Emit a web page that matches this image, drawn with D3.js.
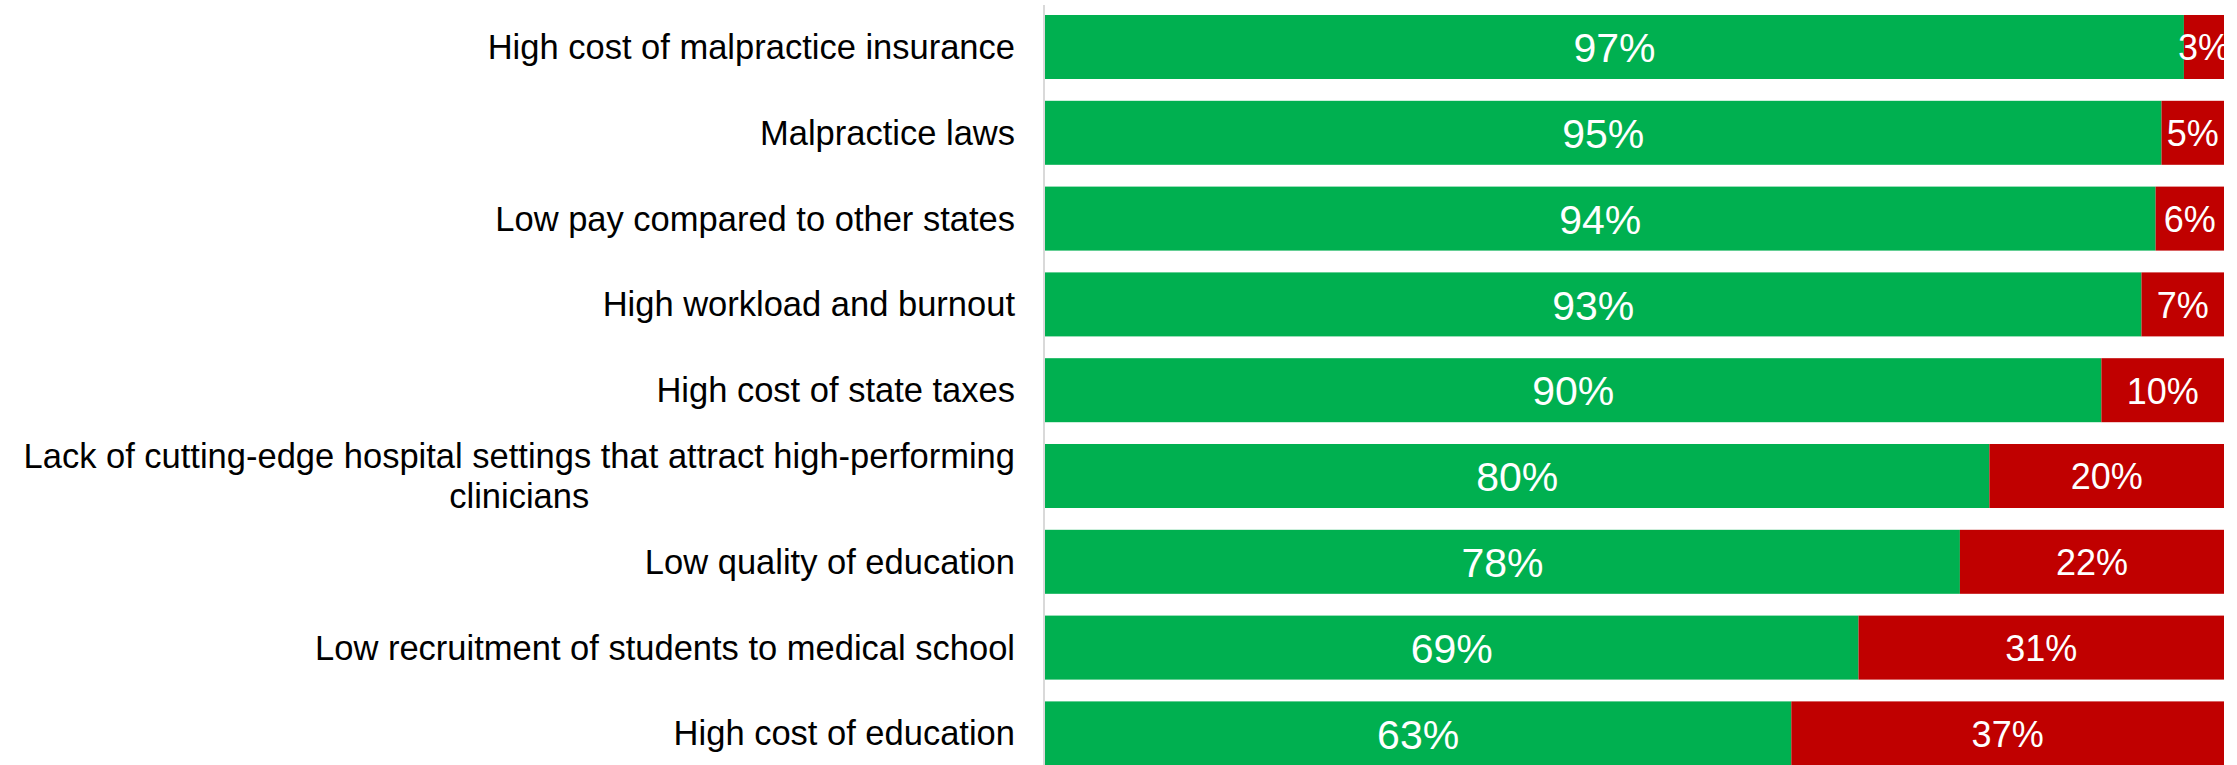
<!DOCTYPE html>
<html>
<head>
<meta charset="utf-8">
<script src="https://cdn.jsdelivr.net/npm/d3@7"></script>
<style>
  html, body { margin: 0; padding: 0; background: #fff; }
  svg { display: block; }
  text { font-family: "Liberation Sans", Arial, sans-serif; }
</style>
</head>
<body>
<svg id="chart" width="2237" height="765"></svg>
<script>
const categories = [
  "High cost of malpractice insurance",
  "Malpractice laws",
  "Low pay compared to other states",
  "High workload and burnout",
  "High cost of state taxes",
  "Lack of cutting-edge hospital settings that attract high-performing\nclinicians",
  "Low quality of education",
  "Low recruitment of students to medical school",
  "High cost of education"
];
const agreeValues = [96.6, 94.7, 94.2, 93.0, 89.6, 80.1, 77.6, 69.0, 63.3];
const disagreeValues = [3.4, 5.3, 5.8, 7.0, 10.4, 19.9, 22.4, 31.0, 36.7];
const seriesColors = ["#00B050", "#C00000"];

const svg = d3.select("#chart");
const plotLeft = 1045, plotRight = 2224;

const x = d3.scaleLinear().domain([0, 100]).range([plotLeft, plotRight]);
const y = d3.scaleBand().domain(categories).range([4.1, 776.3])
  .paddingInner(0.254).paddingOuter(0.127);

svg.append("defs").append("clipPath").attr("id", "plotclip")
  .append("rect").attr("x", plotLeft).attr("y", 0)
  .attr("width", plotRight - plotLeft).attr("height", 765);

const rows = categories.map((c, i) => ({ cat: c, a: agreeValues[i], d: disagreeValues[i] }));
const fmt = v => Math.round(v) + "%";

const g = svg.append("g").attr("clip-path", "url(#plotclip)");

// green segments
g.selectAll("rect.agree").data(rows).join("rect")
  .attr("class", "agree")
  .attr("x", x(0)).attr("y", d => y(d.cat))
  .attr("width", d => x(d.a) - x(0)).attr("height", y.bandwidth())
  .attr("fill", seriesColors[0]);

// red segments
g.selectAll("rect.disagree").data(rows).join("rect")
  .attr("class", "disagree")
  .attr("x", d => x(d.a)).attr("y", d => y(d.cat))
  .attr("width", d => x(d.a + d.d) - x(d.a)).attr("height", y.bandwidth())
  .attr("fill", seriesColors[1]);

// value labels
g.selectAll("text.agree").data(rows).join("text")
  .attr("x", d => (x(0) + x(d.a)) / 2)
  .attr("y", d => y(d.cat) + y.bandwidth() / 2)
  .attr("dy", "0.37em")
  .attr("text-anchor", "middle")
  .attr("fill", "#fff").attr("font-size", 41)
  .text(d => fmt(d.a));

g.selectAll("text.disagree").data(rows).join("text")
  .attr("x", d => (x(d.a) + x(d.a + d.d)) / 2)
  .attr("y", d => y(d.cat) + y.bandwidth() / 2)
  .attr("dy", "0.37em")
  .attr("text-anchor", "middle")
  .attr("fill", "#fff").attr("font-size", 36)
  .text(d => fmt(d.d));

// axis line
svg.append("line")
  .attr("x1", plotLeft - 1).attr("x2", plotLeft - 1)
  .attr("y1", 5).attr("y2", 765)
  .attr("stroke", "#d9d9d9").attr("stroke-width", 2);

// category labels
const labelRight = 1015;
const fontSize = 34.5, lineH = 40;
categories.forEach(c => {
  const lines = c.split("\n");
  const cy = y(c) + y.bandwidth() / 2;
  const t = svg.append("text")
    .attr("font-size", fontSize).attr("fill", "#000");
  if (lines.length === 1) {
    t.attr("x", labelRight).attr("y", cy).attr("dy", "0.35em")
      .attr("text-anchor", "end").text(c);
  } else {
    const spans = lines.map((l, i) => t.append("tspan").text(l)
      .attr("y", cy + (i - (lines.length - 1) / 2) * lineH).attr("dy", "0.35em"));
    const maxW = d3.max(spans, s => s.node().getComputedTextLength());
    const cx = labelRight - maxW / 2;
    t.attr("text-anchor", "middle");
    spans.forEach(s => s.attr("x", cx));
  }
});
</script>
</body>
</html>
